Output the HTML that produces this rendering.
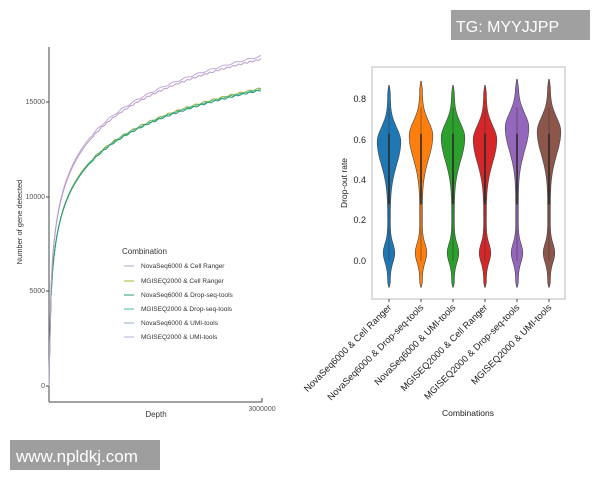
<!DOCTYPE html>
<html><head><style>
body{margin:0;width:600px;height:480px;background:#fff;overflow:hidden;font-family:"Liberation Sans",sans-serif;}
</style></head><body>
<svg id="s" width="600" height="480" viewBox="0 0 600 480" xmlns="http://www.w3.org/2000/svg" font-family="Liberation Sans, sans-serif">
<line x1="49" y1="47" x2="49" y2="402" stroke="#444" stroke-width="1"/>
<line x1="49" y1="402" x2="262" y2="402" stroke="#444" stroke-width="1"/>
<line x1="262" y1="402" x2="262" y2="398" stroke="#444"/>
<g font-size="7" fill="#555" text-anchor="end">
<text x="45" y="104">15000</text><text x="45" y="199">10000</text><text x="45" y="293">5000</text><text x="45" y="388">0</text>
</g>
<g stroke="#444"><line x1="46" y1="102" x2="49" y2="102"/><line x1="46" y1="197" x2="49" y2="197"/><line x1="46" y1="291" x2="49" y2="291"/><line x1="46" y1="386" x2="49" y2="386"/></g>
<text x="262" y="411" font-size="7" fill="#555" text-anchor="middle">3000000</text>
<text x="156" y="417" font-size="8" fill="#333" text-anchor="middle">Depth</text>
<text transform="translate(22,222) rotate(-90)" font-size="7.5" fill="#333" text-anchor="middle">Number of gene detected</text>
<g id="curves" fill="none" stroke-width="1"></g>
<text x="122" y="254" font-size="8" fill="#333">Combination</text>
<g font-size="6.5" fill="#333">
<line x1="124" y1="266" x2="134" y2="266" stroke="#b89cc8"/><text x="141" y="268">NovaSeq6000 &amp; Cell Ranger</text>
<line x1="124" y1="281" x2="134" y2="281" stroke="#a8b030"/><text x="141" y="283">MGISEQ2000 &amp; Cell Ranger</text>
<line x1="124" y1="295" x2="134" y2="295" stroke="#2a9a70"/><text x="141" y="297">NovaSeq6000 &amp; Drop-seq-tools</text>
<line x1="124" y1="309" x2="134" y2="309" stroke="#40b8a0"/><text x="141" y="311">MGISEQ2000 &amp; Drop-seq-tools</text>
<line x1="124" y1="323" x2="134" y2="323" stroke="#90a8d0"/><text x="141" y="325">NovaSeq6000 &amp; UMI-tools</text>
<line x1="124" y1="337" x2="134" y2="337" stroke="#c0a8d8"/><text x="141" y="339">MGISEQ2000 &amp; UMI-tools</text>
</g>
<rect x="372" y="67" width="193" height="232" fill="none" stroke="#bbb" stroke-width="1"/>
<g font-size="9" fill="#222" text-anchor="end">
<text x="366" y="102">0.8</text><text x="366" y="143">0.6</text><text x="366" y="183">0.4</text><text x="366" y="223">0.2</text><text x="366" y="264">0.0</text>
</g>
<text transform="translate(347,183) rotate(-90)" font-size="8.5" fill="#222" text-anchor="middle">Drop-out rate</text>
<text x="468" y="416" font-size="8.5" fill="#222" text-anchor="middle">Combinations</text>
<g id="viol"></g>
<g font-size="9.3" fill="#222" text-anchor="end" id="xl"></g>
<rect x="10" y="440" width="150" height="30" fill="#9e9e9e"/>
<text x="16" y="462" font-size="17" fill="#fff">www.npldkj.com</text>
<rect x="451" y="10" width="139" height="30" fill="#a0a0a0"/>
<text x="456" y="32" font-size="16" fill="#fff">TG: MYYJJPP</text>
</svg>
<script>
var NS="http://www.w3.org/2000/svg";
function el(t,a,p){var e=document.createElementNS(NS,t);for(var k in a)e.setAttribute(k,a[k]);p.appendChild(e);return e;}
var cg=document.getElementById("curves");
function curve(top,seed,col){
 var d="M49 386";for(var x=49.5;x<=262;x+=1.5){var t=(x-49)/213;var g=Math.max(0,1+0.15*Math.log(t));
 var y=386-(386-top)*g; if(x>90)y+=Math.sin(x*seed)*0.7;
 d+="L"+x.toFixed(1)+" "+y.toFixed(1);}
 el("path",{d:d,stroke:col},cg);}
curve(88,0.7,"#a8b030");curve(89,1.3,"#40b8a0");curve(90,0.9,"#2a9a70");
curve(56,0.5,"#c0a8d8");curve(59,1.1,"#b89cc8");
var vg=document.getElementById("viol");
var fc=["#1f77b4","#ff7f0e","#2ca02c","#d62728","#9467bd","#8c564b"];
var cx=[389,421,453,485,517,549];
var pk=[0.59,0.62,0.61,0.6,0.66,0.64],tops=[0.87,0.89,0.87,0.87,0.9,0.9];
function Y(v){return 261-v*202;}
for(var i=0;i<6;i++){
 var L=[],R=[];
 for(var v=-0.13;v<=tops[i]+0.001;v+=0.01){
  var s=v>pk[i]?0.1:0.16;
  var w=10.5*Math.exp(-Math.pow((v-pk[i])/s,2))+4.5*Math.exp(-Math.pow((v-0.04)/0.065,2))+1.3;
  if(v>tops[i]-0.06)w=Math.min(w,(tops[i]-v)*28+0.3);
  if(v<-0.07)w=Math.min(w,(v+0.13)*45+0.3);
  L.push((cx[i]-w).toFixed(1)+" "+Y(v).toFixed(1));R.unshift((cx[i]+w).toFixed(1)+" "+Y(v).toFixed(1));}
 el("path",{d:"M"+L.join(" L")+" L"+R.join(" L")+"Z",fill:fc[i],stroke:"#444","stroke-width":0.6},vg);
 el("line",{x1:cx[i],y1:Y(0.76),x2:cx[i],y2:Y(0),stroke:"#333","stroke-width":0.5},vg);
 el("line",{x1:cx[i],y1:Y(0.63),x2:cx[i],y2:Y(0.28),stroke:"#2a2a2a","stroke-width":1.6},vg);
 el("line",{x1:cx[i],y1:299,x2:cx[i],y2:302,stroke:"#444"},vg);
}
var xl=document.getElementById("xl");
var labs=["NovaSeq6000 & Cell Ranger","NovaSeq6000 & Drop-seq-tools","NovaSeq6000 & UMI-tools","MGISEQ2000 & Cell Ranger","MGISEQ2000 & Drop-seq-tools","MGISEQ2000 & UMI-tools"];
for(var i=0;i<6;i++){var t=el("text",{transform:"translate("+(cx[i]+3)+",308) rotate(-45)"},xl);t.textContent=labs[i];}
</script>
</body></html>
